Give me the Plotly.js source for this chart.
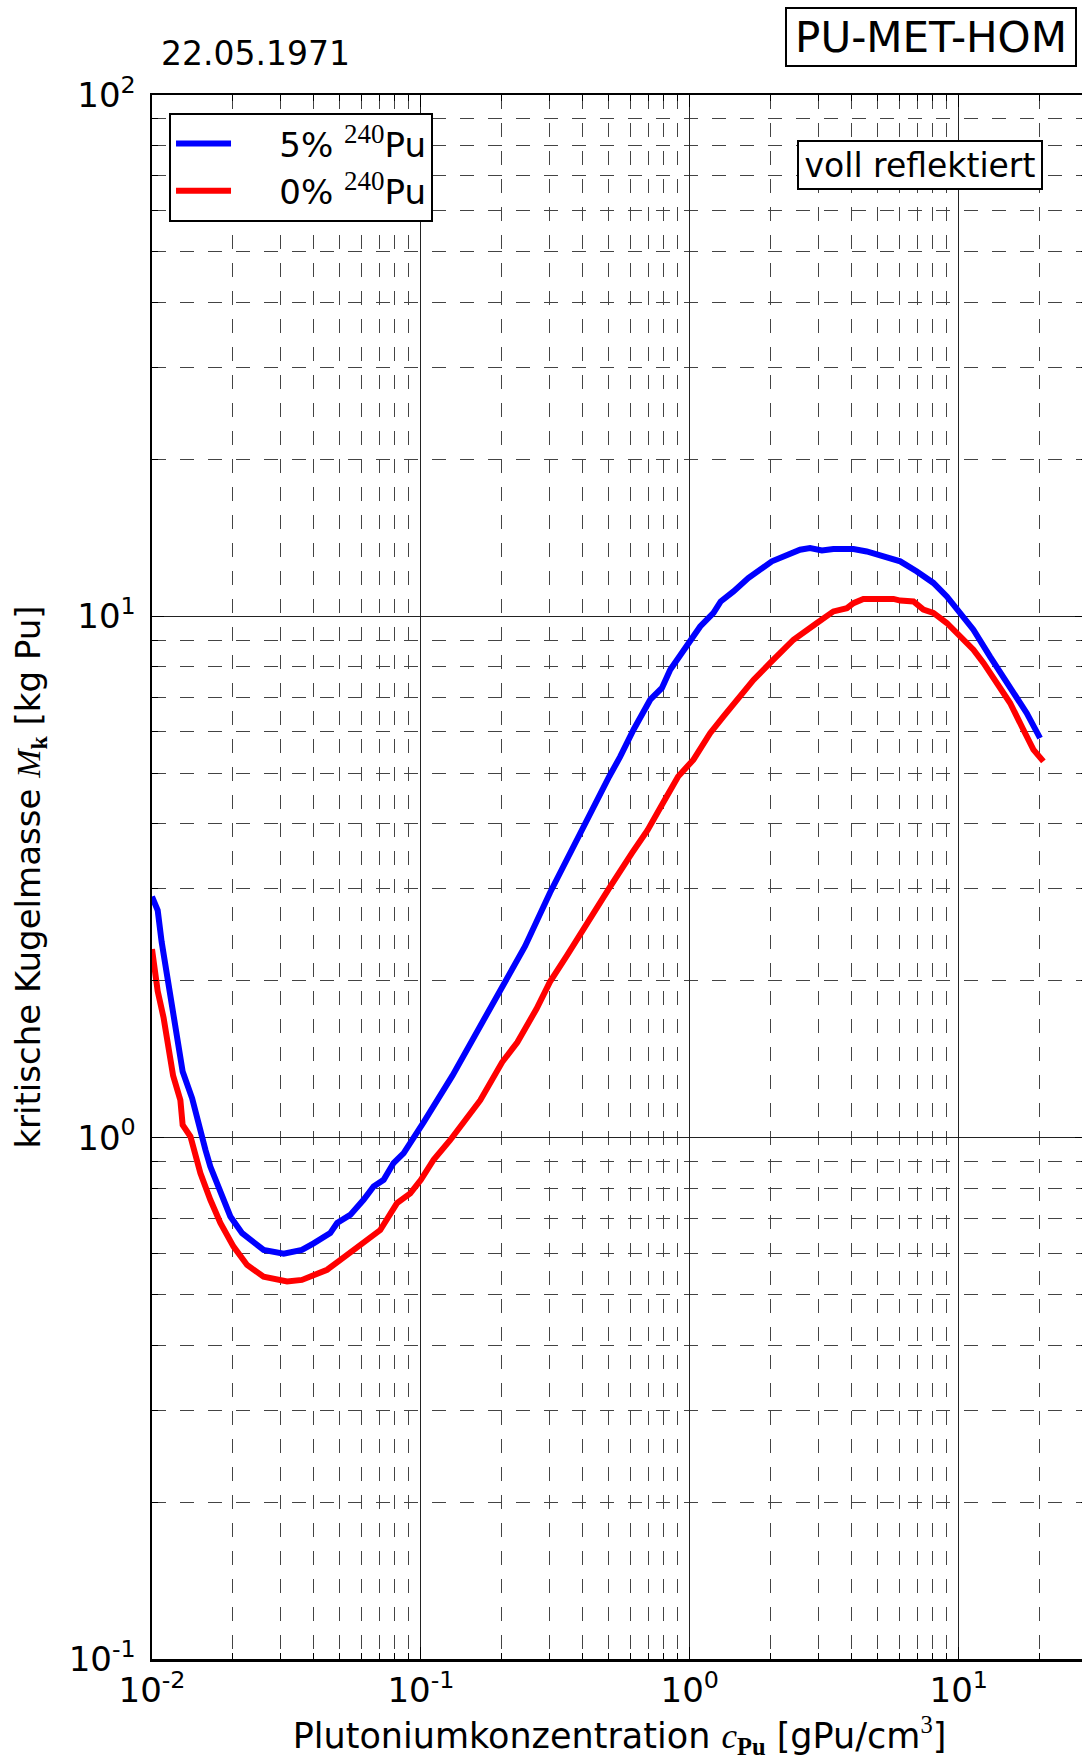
<!DOCTYPE html>
<html>
<head>
<meta charset="utf-8">
<script src="https://cdn.plot.ly/plotly-3.0.1.min.js"></script>
<style>
html,body{margin:0;padding:0;overflow:hidden;background:#fff;}
#chart{width:1087px;height:1760px;}
</style>
</head>
<body>
<div id="chart"></div>
<script>
// ---- data ----
const conc5 = [0.0100,0.0105,0.01086,0.0116,0.0130,0.0141,0.01513,0.0158,0.01648,0.01796,0.01956,0.02163,0.026,0.0309,0.0361,0.0399,0.046,0.0488,0.0546,0.0612,0.0667,0.0727,0.0791,0.0863,0.0939,0.1023,0.131,0.1593,0.2004,0.244,0.302,0.3386,0.4053,0.4546,0.5016,0.551,0.6176,0.7126,0.7878,0.8455,1.0,1.093,1.225,1.303,1.454,1.567,1.65,2.02,2.57,2.80,3.10,3.42,4.06,4.55,5.03,5.56,6.06,6.99,8.05,9.03,10.12,11.34,13.08,15.53,17.91,20.07];
const mass5 = [2.90,2.73,2.375,1.91,1.34,1.19,1.02,0.948,0.880,0.782,0.706,0.656,0.609,0.599,0.609,0.627,0.656,0.686,0.711,0.760,0.806,0.830,0.894,0.934,1.005,1.07,1.315,1.57,1.95,2.33,2.95,3.32,3.97,4.47,4.93,5.38,6.06,6.92,7.29,7.90,9.02,9.56,10.15,10.68,11.16,11.59,11.84,12.75,13.42,13.52,13.38,13.46,13.46,13.32,13.13,12.94,12.75,12.19,11.59,10.92,10.15,9.43,8.37,7.34,6.52,5.84];

const conc0 = [0.0100,0.0105,0.01104,0.01198,0.01275,0.0130,0.0139,0.01513,0.01648,0.01796,0.0201,0.02257,0.026,0.0318,0.0361,0.0448,0.0502,0.0562,0.063,0.0706,0.0815,0.0913,0.1,0.1115,0.1286,0.1663,0.2004,0.2284,0.2692,0.302,0.35,0.412,0.5016,0.6107,0.6965,0.7937,0.905,1.032,1.19,1.335,1.497,1.725,1.99,2.43,2.97,3.42,3.84,4.06,4.42,4.96,5.72,6.06,6.79,7.39,8.05,9.03,10.12,11.34,12.36,13.86,15.53,17.4,18.96,20.65];
const mass0 = [2.30,1.91,1.70,1.315,1.18,1.058,1.005,0.855,0.760,0.686,0.618,0.570,0.541,0.530,0.5335,0.558,0.583,0.609,0.641,0.665,0.749,0.782,0.83,0.907,0.990,1.18,1.395,1.524,1.767,1.99,2.24,2.57,3.01,3.52,3.89,4.38,4.93,5.31,5.97,6.43,6.92,7.55,8.14,9.02,9.71,10.22,10.37,10.6,10.8,10.8,10.8,10.72,10.68,10.3,10.15,9.71,9.15,8.63,8.14,7.45,6.82,6.06,5.55,5.27];

const seriesNames = ['&nbsp;&nbsp;&nbsp;&nbsp;5% <sup><span style="font-family:\'Liberation Serif\';font-size:27px">240</span></sup>Pu',
                     '&nbsp;&nbsp;&nbsp;&nbsp;0% <sup><span style="font-family:\'Liberation Serif\';font-size:27px">240</span></sup>Pu'];
const seriesColors = ['#0000ff','#ff0000'];

const xTickVals = [0.01,0.1,1,10];
const xTickText = ['10<sup>-2</sup>','10<sup>-1</sup>','10<sup>0</sup>','10<sup>1</sup>'];
const yTickVals = [0.1,1,10,100];
const yTickText = ['10<sup>-1</sup>','10<sup>0</sup>','10<sup>1</sup>','10<sup>2</sup>'];

const xRange = [0.01, 30];
const yRange = [0.1, 100];

const dateText = '22.05.1971';
const boxTitle = 'PU-MET-HOM';
const noteText = 'voll reflektiert';
const xTitle = 'Plutoniumkonzentration <span style="font-family:\'Liberation Serif\'"><i>c</i><sub><b>Pu</b></sub></span> [gPu/cm<sup><span style="font-family:\'Liberation Serif\'">3</span></sup>]';
const yTitle = 'kritische Kugelmasse <span style="font-family:\'Liberation Serif\'"><i>M</i><sub><b>k</b></sub></span> [kg Pu]';

// ---- figure ----
const FONT = 'DejaVu Sans, Liberation Sans, sans-serif';
const traces = [
  {x: conc5, y: mass5, name: seriesNames[0], type: 'scatter', mode: 'lines',
   line: {color: seriesColors[0], width: 6}},
  {x: conc0, y: mass0, name: seriesNames[1], type: 'scatter', mode: 'lines',
   line: {color: seriesColors[1], width: 6}}
];

const gridMinor = {dtick: 'D1', showgrid: true, gridcolor: '#444', gridwidth: 1,
                   griddash: '14px,14px', ticks: 'inside', ticklen: 6, tickcolor: '#000', tickwidth: 1};

const layout = {
  width: 1087, height: 1760,
  margin: {l: 152, r: 0, t: 95, b: 101, pad: 0},
  paper_bgcolor: '#fff', plot_bgcolor: '#fff',
  font: {family: FONT, size: 34, color: '#000'},
  showlegend: true,
  legend: {x: 0.0182, y: 0.9885, xanchor: 'left', yanchor: 'top',
           bgcolor: '#fff', bordercolor: '#000', borderwidth: 2,
           font: {family: FONT, size: 34, color: '#000'}, itemwidth: 55, tracegroupgap: 0},
  xaxis: {type: 'log', range: [Math.log10(xRange[0]), Math.log10(xRange[1])],
          tickmode: 'array', tickvals: xTickVals, ticktext: xTickText,
          ticks: 'inside', ticklen: 12, tickwidth: 1, tickcolor: '#000',
          showline: true, linecolor: '#000', linewidth: 2.5, mirror: 'allticks',
          showgrid: true, gridcolor: '#222', gridwidth: 1, zeroline: false,
          tickfont: {family: FONT, size: 34, color: '#000'},
          title: {text: xTitle, font: {family: FONT, size: 35, color: '#000'}, standoff: 20},
          minor: gridMinor},
  yaxis: {type: 'log', range: [Math.log10(yRange[0]), Math.log10(yRange[1])],
          tickmode: 'array', tickvals: yTickVals, ticktext: yTickText,
          ticks: 'inside', ticklen: 12, tickwidth: 1, tickcolor: '#000',
          showline: true, linecolor: '#000', linewidth: 2.5, mirror: 'allticks',
          showgrid: true, gridcolor: '#222', gridwidth: 1, zeroline: false,
          ticklabelstandoff: 7,
          tickfont: {family: FONT, size: 34, color: '#000'},
          title: {text: yTitle, font: {family: FONT, size: 34, color: '#000'}, standoff: 18},
          minor: gridMinor},
  annotations: [
    {text: dateText, xref: 'paper', yref: 'paper', x: 0.00856, y: 1.0265,
     xanchor: 'left', yanchor: 'middle', showarrow: false, borderpad: 0,
     font: {family: FONT, size: 33, color: '#000'}},
    {text: boxTitle, xref: 'paper', yref: 'paper', x: 0.8332, y: 1.0371,
     xanchor: 'center', yanchor: 'middle', showarrow: false,
     width: 286, height: 54, borderpad: 1, borderwidth: 2, bordercolor: '#000', bgcolor: '#fff',
     font: {family: FONT, size: 42, color: '#000'}},
    {text: noteText, xref: 'paper', yref: 'paper', x: 0.8214, y: 0.9552,
     xanchor: 'center', yanchor: 'middle', showarrow: false,
     width: 240, height: 44, borderpad: 1, borderwidth: 2, bordercolor: '#000', bgcolor: '#fff',
     font: {family: FONT, size: 33, color: '#000'}}
  ]
};

Plotly.newPlot('chart', traces, layout, {displayModeBar: false, staticPlot: true});
</script>
</body>
</html>
